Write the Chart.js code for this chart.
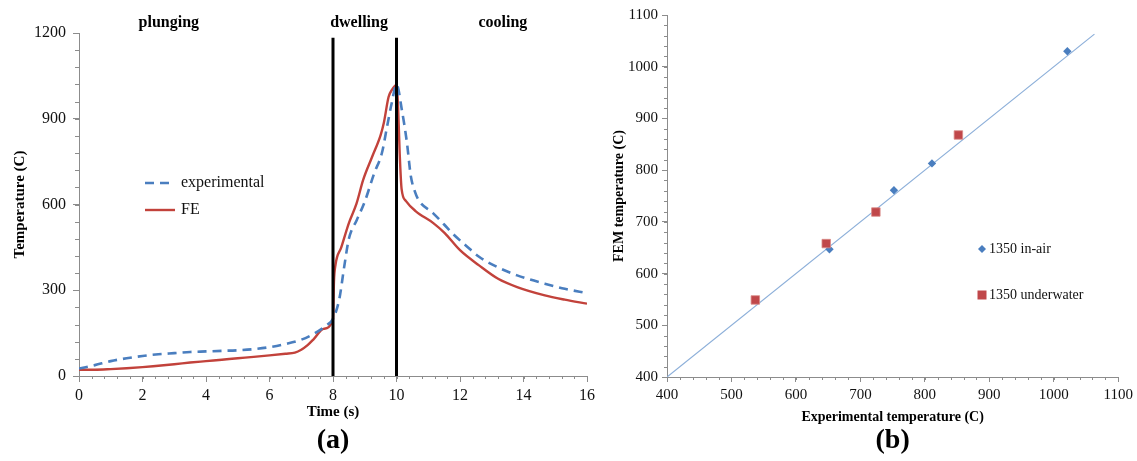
<!DOCTYPE html>
<html><head><meta charset="utf-8">
<script src="https://cdn.jsdelivr.net/npm/chart.js@4.4.1/dist/chart.umd.min.js"></script>
<style>
html,body{margin:0;padding:0;background:#fff;width:1137px;height:461px;overflow:hidden}
#a{position:absolute;left:0;top:0;width:600px;height:461px}
#b{position:absolute;left:600px;top:0;width:537px;height:461px}
</style></head><body>
<canvas id="a" width="600" height="461"></canvas>
<canvas id="b" width="537" height="461"></canvas>
<script>
// ---------- Panel (a) data ----------
const expTime = [0,0.5,1.0,1.5,2.0,2.5,3.0,3.5,4.0,4.5,5.0,5.5,6.0,6.5,7.0,7.4,7.8,8.0,8.2,8.35,8.5,8.75,9.0,9.3,9.54,9.7,9.85,10.0,10.17,10.33,10.45,10.58,10.7,11.15,11.5,11.77,12.2,12.6,13.2,13.8,14.67,15.3,16.0];
const expTemp = [26,38,52,62,70,76,80,84,86,88,90,94,101,112,127,148,178,200,270,380,480,546,610,710,780,871,955,1020,930,815,700,645,615,570,530,498,455,417,380,352,323,305,290];
const feTime = [0,0.5,1.0,1.5,2.0,2.5,3.0,3.5,4.0,4.5,5.0,5.5,6.0,6.5,6.8,7.0,7.2,7.4,7.7,8.0,8.03,8.08,8.26,8.5,8.74,8.95,9.23,9.5,9.6,9.75,9.85,10.0,10.05,10.1,10.16,10.3,10.6,11.16,11.52,12.0,12.6,13.2,13.8,14.67,15.3,16.0];
const feTemp = [22,22,24,27,31,36,41,47,52,57,62,67,72,78,82,92,108,130,165,200,330,390,450,535,603,686,766,843,885,976,1000,1018,940,780,655,612,577,535,500,440,387,340,311,282,267,253];
const phaseBounds = [8, 10];
const phaseLineTop = 1183;
const phaseNames = ['plunging', 'dwelling', 'cooling'];
const phaseLabelTime = [2.83, 8.82, 13.35];
const xTicksA = {min:0, max:16, step:2, minor:0.4};
const yTicksA = {min:0, max:1200, step:300, minor:60};

// ---------- Panel (b) data ----------
const airX = [652, 752, 811, 1021];
const airY = [647, 761, 813, 1030];
const waterX = [537, 647, 724, 852];
const waterY = [549, 658, 719, 868];
const fitX = [400, 1063];
const fitY = [400, 1063];
const axisB = {min:400, max:1100, step:100, minor:20};

const SERIF = "'Liberation Serif', 'Times New Roman', serif";
const BLUE = '#4a7ebf';
const RED = '#c2423b';
const AXIS = '#8c8c8c';

const pts = (xs, ys) => xs.map((x, i) => ({x, y: ys[i]}));

const minorTicks = {
  id: 'minorTicks',
  afterDraw(chart, args, opts) {
    const ctx = chart.ctx;
    ctx.save();
    ctx.strokeStyle = AXIS; ctx.lineWidth = 1;
    for (const id of Object.keys(opts.scales || {})) {
      const cfg = opts.scales[id];
      const s = chart.scales[id];
      const n = Math.round((s.max - s.min) / cfg.step);
      for (let i = 0; i <= n; i++) {
        const v = s.min + i * cfg.step;
        const p = Math.round(s.getPixelForValue(v)) + 0.5;
        ctx.beginPath();
        if (s.isHorizontal()) { ctx.moveTo(p, s.top); ctx.lineTo(p, s.top + cfg.len); }
        else { ctx.moveTo(s.right, p); ctx.lineTo(s.right - cfg.len, p); }
        ctx.stroke();
      }
    }
    ctx.restore();
  }
};

const textPlugin = {
  id: 'textPlugin',
  afterDraw(chart, args, opts) {
    const ctx = chart.ctx;
    ctx.save();
    const ca = chart.chartArea;
    ctx.fillStyle = '#000';
    ctx.font = 'bold 28px ' + SERIF;
    ctx.textAlign = 'center'; ctx.textBaseline = 'middle';
    ctx.fillText(opts.panel, (ca.left + ca.right) / 2, opts.panelY);
    if (opts.phases) {
      ctx.font = 'bold 16px ' + SERIF;
      const xs = chart.scales.x;
      phaseNames.forEach((name, i) => {
        ctx.fillText(name, xs.getPixelForValue(phaseLabelTime[i]), opts.phaseY);
      });
    }
    if (opts.legend) {
      const L = opts.legend;
      ctx.textAlign = 'left';
      L.items.forEach((it, i) => {
        const ds = chart.data.datasets[it.ds];
        const y = L.y + i * L.gap;
        ctx.font = L.fontSize + 'px ' + SERIF;
        if (L.kind === 'line') {
          ctx.strokeStyle = ds.borderColor; ctx.lineWidth = ds.borderWidth;
          ctx.setLineDash(ds.borderDash || []);
          ctx.beginPath(); ctx.moveTo(L.x, y); ctx.lineTo(L.x + L.len, y); ctx.stroke();
          ctx.setLineDash([]);
          ctx.fillStyle = '#111';
          ctx.fillText(ds.label, L.x + L.len + 6, y);
        } else {
          ctx.fillStyle = ds.backgroundColor;
          const r = it.size;
          ctx.beginPath();
          if (ds.pointStyle === 'rectRot') {
            ctx.moveTo(L.x, y - r); ctx.lineTo(L.x + r, y); ctx.lineTo(L.x, y + r); ctx.lineTo(L.x - r, y); ctx.closePath();
          } else {
            ctx.rect(L.x - r, y - r, 2 * r, 2 * r);
          }
          ctx.fill();
          ctx.fillStyle = '#111';
          ctx.fillText(ds.label, L.x + 7, y);
        }
      });
    }
    ctx.restore();
  }
};

function axisCommon(tk, fontSize, tickLen, pad) {
  return {
    type: 'linear', min: tk.min, max: tk.max,
    ticks: {stepSize: tk.step, color: '#111', font: {family: SERIF, size: fontSize}, padding: pad, maxRotation: 0,
            callback: v => String(v)},
    grid: {drawOnChartArea: false, drawTicks: true, tickLength: tickLen, color: AXIS, tickColor: AXIS},
    border: {display: true, color: AXIS, width: 1}
  };
}

// ---------- Chart (a) ----------
const xA = axisCommon(xTicksA, 16, 6, 4);
xA.title = {display: true, text: 'Time (s)', color: '#000', font: {family: SERIF, size: 15, weight: 'bold'}, padding: {top: 0, bottom: 4}};
xA.afterFit = s => { s.height = 49; };
const yA = axisCommon(yTicksA, 16, 6, 7);
yA.title = {display: true, text: 'Temperature (C)', color: '#000', font: {family: SERIF, size: 15, weight: 'bold'}, padding: {top: 11, bottom: 0}};
yA.afterFit = s => { s.width = 79; };

const boundarySets = phaseBounds.map(t => ({
  label: 'boundary', data: pts([t, t], [0, phaseLineTop]),
  borderColor: '#000', borderWidth: 3, pointRadius: 0, order: 0, tension: 0
}));

new Chart(document.getElementById('a'), {
  type: 'line',
  data: {datasets: [
    {label: 'experimental', data: pts(expTime, expTemp), borderColor: BLUE, borderWidth: 2.6, borderDash: [9, 6], pointRadius: 0, cubicInterpolationMode: 'monotone', order: 1},
    {label: 'FE', data: pts(feTime, feTemp), borderColor: RED, borderWidth: 2.4, pointRadius: 0, cubicInterpolationMode: 'monotone', order: 2},
    ...boundarySets
  ]},
  options: {
    responsive: false, animation: false, events: [],
    layout: {padding: {left: 0, right: 13, top: 33, bottom: 36}},
    scales: {x: xA, y: yA},
    plugins: {
      legend: {display: false}, tooltip: {enabled: false},
      minorTicks: {scales: {x: {step: xTicksA.minor, len: 3}, y: {step: yTicksA.minor, len: 4}}},
      textPlugin: {panel: '(a)', panelY: 441, phases: true, phaseY: 23,
        legend: {kind: 'line', x: 145, y: 183, gap: 27, len: 30, fontSize: 16, items: [{ds: 0}, {ds: 1}]}}
    }
  },
  plugins: [minorTicks, textPlugin]
});

// ---------- Chart (b) ----------
const xB = axisCommon(axisB, 15, 5, 4);
xB.title = {display: true, text: 'Experimental temperature (C)', color: '#000', font: {family: SERIF, size: 14, weight: 'bold'}, padding: {top: 0, bottom: 4}};
xB.afterFit = s => { s.height = 53; };
const yB = axisCommon(axisB, 15, 5, 4);
yB.title = {display: true, text: 'FEM temperature (C)', color: '#000', font: {family: SERIF, size: 14, weight: 'bold'}, padding: {top: 11, bottom: 0}};
yB.afterFit = s => { s.width = 67; };

new Chart(document.getElementById('b'), {
  type: 'scatter',
  data: {datasets: [
    {label: 'fit', data: pts(fitX, fitY), showLine: true, borderColor: '#8cafd9', borderWidth: 1.2, pointRadius: 0, order: 3},
    {label: '1350 in-air', data: pts(airX, airY), pointStyle: 'rectRot', pointRadius: 4.2, backgroundColor: BLUE, borderColor: BLUE, borderWidth: 0, order: 1},
    {label: '1350 underwater', data: pts(waterX, waterY), pointStyle: 'rect', pointRadius: 6, backgroundColor: '#c0474a', borderColor: '#d98a88', borderWidth: 0.8, order: 0}
  ]},
  options: {
    responsive: false, animation: false, events: [],
    layout: {padding: {left: 0, right: 17, top: 15, bottom: 31}},
    scales: {x: xB, y: yB},
    plugins: {
      legend: {display: false}, tooltip: {enabled: false},
      minorTicks: {scales: {x: {step: axisB.minor, len: 3}, y: {step: axisB.minor, len: 3}}},
      textPlugin: {panel: '(b)', panelY: 441, phases: false,
        legend: {kind: 'point', x: 382, y: 249, gap: 46, fontSize: 14, items: [{ds: 1, size: 4}, {ds: 2, size: 4.5}]}}
    }
  },
  plugins: [minorTicks, textPlugin]
});
</script></body></html>
